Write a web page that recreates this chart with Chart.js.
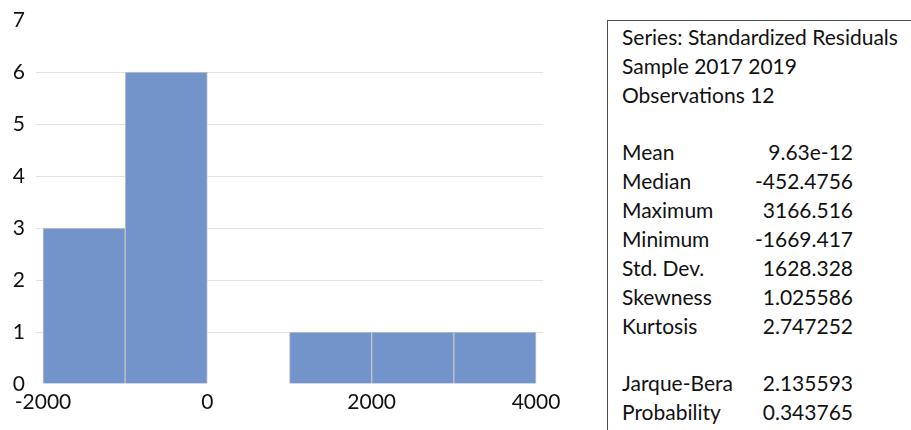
<!DOCTYPE html>
<html>
<head>
<meta charset="utf-8">
<script src="https://cdn.jsdelivr.net/npm/chart.js@4.4.1/dist/chart.umd.min.js"></script>
<style>
  html, body { margin: 0; padding: 0; background: #fff; }
  body { width: 911px; height: 430px; position: relative; overflow: hidden; }
  #wrap { position: absolute; left: 0; top: 0; width: 600px; height: 430px; }
  #stats {
    position: absolute; left: 607px; top: 20px; width: 400px; height: 500px;
    border: 1px solid #505050; box-sizing: border-box;
    font-family: Lato, "Open Sans", sans-serif; font-size: 21px; color: #111;
  }
  #stats .row { position: absolute; left: 14px; height: 29px; line-height: 29px; white-space: nowrap; }
  #stats .val { position: absolute; left: 125px; width: 120px; height: 29px; line-height: 29px; text-align: right; white-space: nowrap; }
</style>
</head>
<body>
<div id="wrap"><canvas id="c"></canvas></div>
<div id="stats"></div>
<script>
// ---- data ----
const binCenters = [-1500, -500, 500, 1500, 2500, 3500];
const binCounts  = [3, 6, 0, 1, 1, 1];
const xTickValues = [-2000, 0, 2000, 4000];
const yTickValues = [0, 1, 2, 3, 4, 5, 6, 7];
const headerLines = ["Series: Standardized Residuals", "Sample 2017 2019", "Observations 12"];
const statNames  = ["Mean", "Median", "Maximum", "Minimum", "Std. Dev.", "Skewness", "Kurtosis"];
const statValues = ["9.63e-12", "-452.4756", "3166.516", "-1669.417", "1628.328", "1.025586", "2.747252"];
const testNames  = ["Jarque-Bera", "Probability"];
const testValues = ["2.135593", "0.343765"];

// ---- stats box ----
const box = document.getElementById('stats');
const lineH = 28.85;
function addRow(i, label, value) {
  const top = (1 + i * lineH) + 'px';
  const r = document.createElement('div');
  r.className = 'row';
  r.style.top = top;
  r.textContent = label;
  box.appendChild(r);
  if (value !== undefined) {
    const v = document.createElement('div');
    v.className = 'val';
    v.style.top = top;
    v.textContent = value;
    box.appendChild(v);
  }
}
headerLines.forEach((t, i) => addRow(i, t));
statNames.forEach((t, i) => addRow(4 + i, t, statValues[i]));
testNames.forEach((t, i) => addRow(12 + i, t, testValues[i]));

// ---- chart ----
const tickFont = { family: 'Lato, "Open Sans", sans-serif', size: 21 };
new Chart(document.getElementById('c'), {
  type: 'bar',
  data: {
    datasets: [{
      data: binCenters.map((x, i) => ({ x: x, y: binCounts[i] })),
      backgroundColor: '#7294ca',
      borderColor: '#c4c4c4',
      borderWidth: 1,
      barPercentage: 1,
      categoryPercentage: 1
    }]
  },
  options: {
    responsive: true,
    maintainAspectRatio: false,
    animation: false,
    layout: { padding: { top: 20, right: 57, bottom: 0, left: 0 } },
    plugins: { legend: { display: false }, tooltip: { enabled: false } },
    scales: {
      x: {
        type: 'linear',
        offset: false,
        min: -2085,
        max: 4085,
        afterBuildTicks: s => { s.ticks = xTickValues.map(v => ({ value: v })); },
        afterFit: s => { s.height = 46; },
        grid: { display: false, drawTicks: false, offset: false },
        border: { display: false },
        ticks: { font: tickFont, color: '#111', padding: 6, maxRotation: 0, autoSkip: false,
                 callback: v => String(v) }
      },
      y: {
        min: 0,
        max: 7,
        afterBuildTicks: s => { s.ticks = yTickValues.map(v => ({ value: v })); },
        afterFit: s => { s.width = 36; s.paddingTop = 0; s.paddingBottom = 0; },
        grid: {
          drawTicks: false,
          color: c => (c.tick && c.tick.value >= 1 && c.tick.value <= 6) ? '#e3e3e3' : 'rgba(0,0,0,0)'
        },
        border: { display: false },
        ticks: { font: tickFont, color: '#111', padding: 11 }
      }
    }
  }
});
</script>
</body>
</html>
